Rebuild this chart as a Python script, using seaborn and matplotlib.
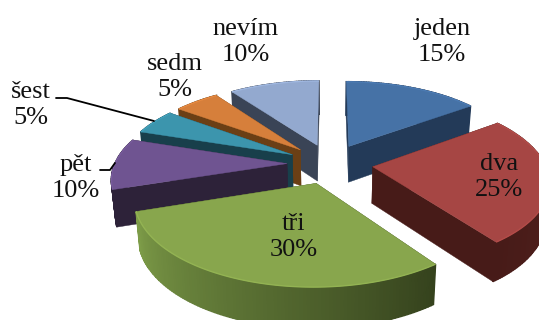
import numpy as np
import matplotlib
matplotlib.use("Agg")
import matplotlib.pyplot as plt
import seaborn as sns

categories = ["jeden", "dva", "tři", "pět", "šest", "sedm", "nevím"]
values = [15, 25, 30, 10, 5, 5, 10]

top_hex = ["#4672A6", "#A64644", "#88A64D", "#6F5491", "#3C95AD", "#D67F3B", "#93A9CF"]
wall_hex = ["#233A58", "#471B18", "#35421D", "#2D2239", "#183F4B", "#6B3F15", "#3A4456"]
rim_start_hex = ["#233A58", "#5A2421", "#35421D", "#2D2239", "#183F4B", "#6B3F15", "#3A4456"]
rim_end_hex = ["#233A58", "#471B18", "#7D9C48", "#2D2239", "#183F4B", "#6B3F15", "#3A4456"]

sns.set_theme(style="white")
top_colors = sns.color_palette(top_hex)
wall_colors = sns.color_palette(wall_hex)
rim_start = sns.color_palette(rim_start_hex)
rim_end = sns.color_palette(rim_end_hex)
plt.rcParams["font.family"] = ["Liberation Serif", "DejaVu Serif"]

# projection of the tilted pie
CX, CY, AX, BY, PERSP = 330.0, 163.6, 172.0, 80.0, 0.16
EXPLODE, DEPTH, SHRINK = 0.25, 36.5, 0.98


def project(x, y, bottom=False):
    w = 1 + PERSP * y
    px = CX + AX * x / w
    py = CY - BY * y / w
    if bottom:
        px = CX + (px - CX) * SHRINK
        py = CY + (py - CY) * SHRINK + DEPTH * w ** -0.8
    return px, py


fig = plt.figure(figsize=(5.39, 3.2), dpi=100)
ax = fig.add_axes([0, 0, 1, 1])
ax.set_xlim(0, 539)
ax.set_ylim(320, 0)
ax.axis("off")

shares = np.array(values, dtype=float) / np.sum(values) * 2 * np.pi
ends = np.cumsum(shares)
starts = ends - shares

draw_order = [6, 0, 5, 4, 3, 1, 2]
for i in draw_order:
    z = draw_order.index(i) * 3
    a0, a1 = starts[i], ends[i]
    mid = (a0 + a1) / 2
    tx, ty = EXPLODE * np.sin(mid), EXPLODE * np.cos(mid)
    th = np.linspace(a0, a1, max(int(np.degrees(a1 - a0)), 4) + 1)
    ox, oy = tx + np.sin(th), ty + np.cos(th)

    # radial walls
    for ex, ey in ((ox[0], oy[0]), (ox[-1], oy[-1])):
        p = [project(tx, ty), project(ex, ey), project(ex, ey, True), project(tx, ty, True)]
        ax.fill(*zip(*p), color=wall_colors[i], lw=0.3, zorder=z + 1)

    # outer rim, shaded facet by facet
    n = len(th) - 1
    for k in range(n):
        f = k / max(n - 1, 1)
        col = tuple((1 - f) * np.array(rim_start[i]) + f * np.array(rim_end[i]))
        p = [project(ox[k], oy[k]), project(ox[k + 1], oy[k + 1]),
             project(ox[k + 1], oy[k + 1], True), project(ox[k], oy[k], True)]
        ax.fill(*zip(*p), color=col, lw=1.2, zorder=z + 1.5)

    # top face
    xs = np.r_[tx, ox]
    ys = np.r_[ty, oy]
    px, py = project(xs, ys)
    ax.fill(px, py, color=top_colors[i], lw=0.3, zorder=z + 2)
    rx, ry = project(ox, oy)
    lip = tuple(min(1, c * 1.08) for c in top_colors[i])
    ax.plot(rx, ry, color=lip, lw=1.0, zorder=z + 2.5, solid_capstyle="butt")

label_centres = {
    "jeden": (442, 42), "dva": (499, 177), "tři": (294, 237), "pět": (76, 178),
    "šest": (31, 105), "sedm": (175, 77), "nevím": (246, 42),
}
for name, val in zip(categories, values):
    x, y = label_centres[name]
    ax.text(x, y, f"{name}\n{val}%", ha="center", va="center", fontsize=19,
            color="#111111", linespacing=1.27, zorder=40)

# leader lines
ax.plot([56, 67, 154], [98, 98, 121], color="black", lw=1.3, zorder=39)
ax.plot([100, 110, 115], [170, 170, 163], color="black", lw=1.3, zorder=39)

fig.savefig("out.png", dpi=100)
